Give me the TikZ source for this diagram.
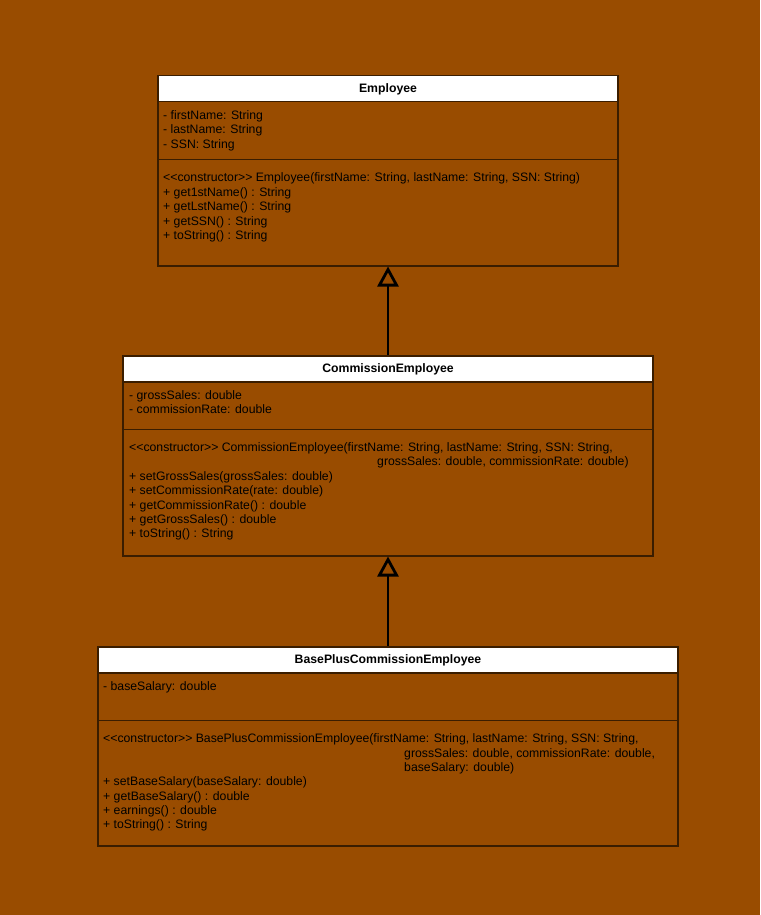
\documentclass[tikz,border=0pt]{standalone}
\usepackage{fontspec}
\usetikzlibrary{arrows.meta}
\newfontfamily\umlfont{Liberation Sans}
\newcommand{\umlsize}{\fontsize{12.25pt}{14.5pt}\selectfont}
\definecolor{bgbrown}{RGB}{153,76,0}
\definecolor{umlline}{RGB}{58,29,0}

\begin{document}
\begin{tikzpicture}[x=1pt,y=1pt,yscale=-1,
  classbox/.style={draw=umlline, line width=1.5pt, anchor=north, inner sep=0pt},
  headbox/.style={classbox, fill=white, font=\umlfont\umlsize\bfseries, text depth=1pt},
  sepline/.style={draw=umlline, line width=1pt},
  umltext/.style={anchor=base west, inner sep=0pt, font=\umlfont\umlsize},
  inherit/.style={-{Triangle[open, length=20pt, width=21pt]}, line width=2.8pt, black}]
\useasboundingbox (0,0) rectangle (760,915);
\fill[bgbrown] (0,0) rectangle (760,915);

% Employee
\node[classbox, minimum width=460pt, minimum height=190pt] (emp) at (388,75) {};
\node[headbox, minimum width=460pt, minimum height=26pt] (empHead) at (388,75) {Employee};
\draw[sepline] (158,159) -- (618,159);
\foreach \ln [count=\i] in {{- firstName: String}, {- lastName: String}, {- SSN: String}}
  \node[umltext] (empAttr\i) at (163,105+14.5*\i) {\ln};
\foreach \ln [count=\i] in {{<{}<constructor>{}> Employee(firstName: String, lastName: String, SSN: String)},
    {+ get1stName() : String}, {+ getLstName() : String}, {+ getSSN() : String}, {+ toString() : String}}
  \node[umltext] (empOp\i) at (163,167.3+14.5*\i) {\ln};

% CommissionEmployee
\node[classbox, minimum width=530pt, minimum height=200pt] (com) at (388,355) {};
\node[headbox, minimum width=530pt, minimum height=26pt] (comHead) at (388,355) {CommissionEmployee};
\draw[sepline] (123,429) -- (653,429);
\foreach \ln [count=\i] in {{- grossSales: double}, {- commissionRate: double}}
  \node[umltext] (comAttr\i) at (129,384.5+14.5*\i) {\ln};
\foreach \ln [count=\i] in {{<{}<constructor>{}> CommissionEmployee(firstName: String, lastName: String, SSN: String,},
    {\hspace*{248pt}grossSales: double, commissionRate: double)},
    {+ setGrossSales(grossSales: double)}, {+ setCommissionRate(rate: double)},
    {+ getCommissionRate() : double}, {+ getGrossSales() : double}, {+ toString() : String}}
  \node[umltext] (comOp\i) at (129,436.8+14.45*\i) {\ln};

% BasePlusCommissionEmployee
\node[classbox, minimum width=580pt, minimum height=199pt] (bpc) at (388,646) {};
\node[headbox, minimum width=580pt, minimum height=26pt] (bpcHead) at (388,646) {BasePlusCommissionEmployee};
\draw[sepline] (98,720) -- (678,720);
\node[umltext] (bpcAttr1) at (103,690.5) {- baseSalary: double};
\foreach \ln [count=\i] in {{<{}<constructor>{}> BasePlusCommissionEmployee(firstName: String, lastName: String, SSN: String,},
    {\hspace*{301pt}grossSales: double, commissionRate: double,},
    {\hspace*{301pt}baseSalary: double)},
    {+ setBaseSalary(baseSalary: double)}, {+ getBaseSalary() : double},
    {+ earnings() : double}, {+ toString() : String}}
  \node[umltext] (bpcOp\i) at (103,728.5+14.33*\i) {\ln};

% generalisation
\draw[inherit] (com.north) -- (emp.south);
\draw[inherit] (bpc.north) -- (com.south);
\end{tikzpicture}
\end{document}
